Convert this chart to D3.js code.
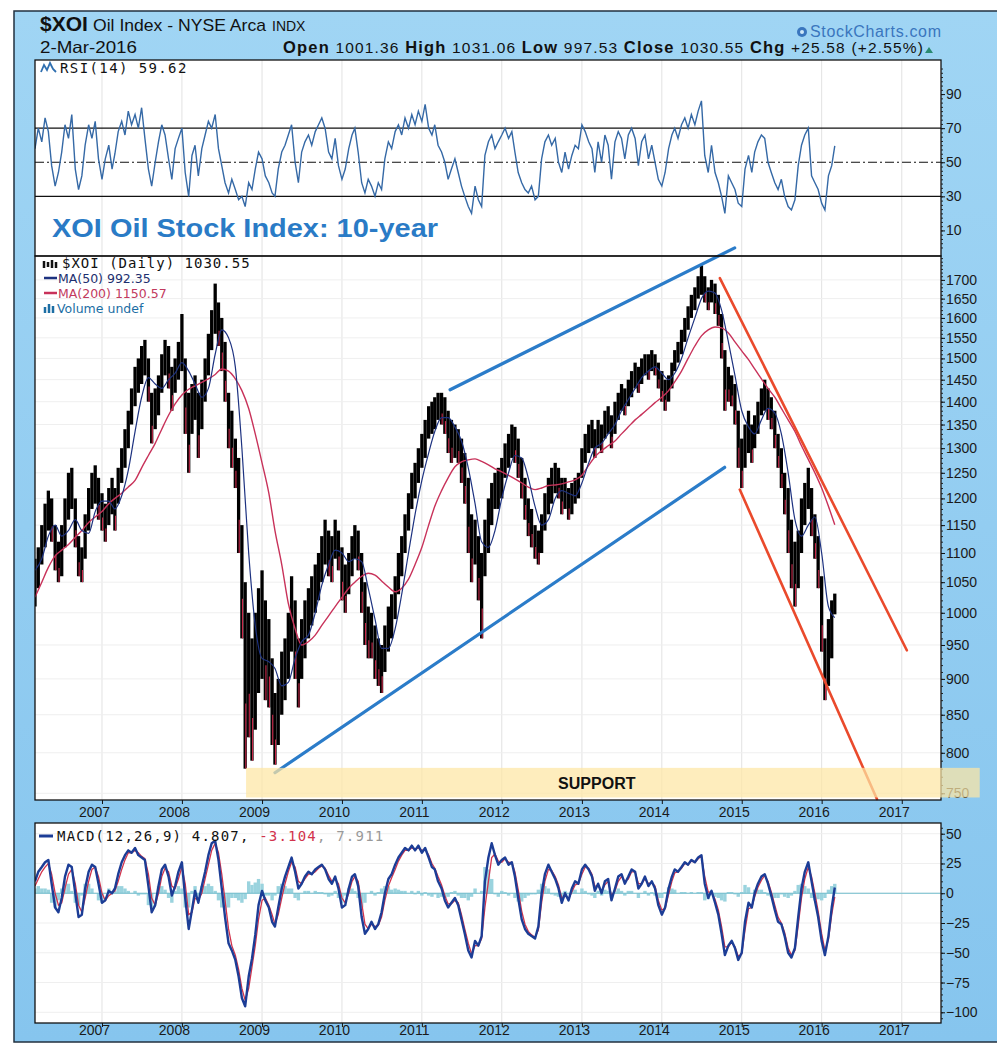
<!DOCTYPE html>
<html><head><meta charset="utf-8">
<script src="https://cdn.jsdelivr.net/npm/d3@7"></script>
<style>body{margin:0;background:#fff}svg{display:block}</style>
</head><body>
<svg id="c" width="997" height="1046"></svg>
<script>
// ---------- DATA (semimonthly: 1st and 16th of each month, from 1-Mar-2006) ----------
const seriesStart = "2006-03-01";
const priceHigh = [
1090,1110,1150,1190,1215,1200,1150,1120,1150,1200,
1250,1260,1200,1130,1110,1170,1220,1250,1265,1240,
1210,1190,1220,1240,1220,1260,1300,1340,1380,1430,
1480,1500,1530,1545,1500,1420,1430,1460,1510,1545,
1530,1480,1500,1540,1610,1500,1420,1440,1460,1420,
1450,1500,1560,1620,1690,1640,1600,1540,1420,1380,
1320,1280,1150,1050,1000,960,1000,1040,1070,1020,
990,930,880,900,940,960,1000,1060,1020,960,
990,1020,1040,1060,1080,1100,1130,1160,1140,1130,
1160,1140,1110,1080,1100,1130,1150,1140,1100,1050,
1010,1000,980,960,950,980,1010,1030,1060,1100,
1130,1170,1210,1250,1270,1300,1330,1360,1390,1400,
1410,1420,1420,1410,1380,1360,1350,1340,1320,1290,
1240,1170,1160,1130,1100,1160,1200,1230,1250,1260,
1280,1310,1330,1350,1345,1320,1280,1240,1200,1180,
1150,1140,1170,1210,1240,1260,1270,1260,1240,1240,
1220,1230,1240,1250,1300,1330,1350,1360,1340,1360,
1350,1380,1390,1370,1400,1420,1440,1430,1450,1470,
1490,1480,1500,1510,1510,1520,1510,1490,1470,1450,
1460,1490,1520,1540,1570,1600,1630,1660,1680,1710,
1740,1710,1680,1700,1690,1660,1610,1520,1480,1460,
1440,1380,1320,1350,1380,1350,1370,1400,1430,1450,
1430,1410,1380,1330,1300,1250,1220,1160,1120,1140,
1200,1230,1260,1220,1170,1130,1060,960,990,1020,
1031.06];
const priceLow = [
1010,1040,1080,1110,1140,1120,1070,1050,1060,1110,
1160,1180,1110,1060,1050,1090,1140,1180,1190,1160,
1140,1120,1150,1170,1140,1190,1230,1260,1300,1350,
1390,1420,1440,1460,1400,1310,1340,1370,1420,1460,
1430,1380,1420,1450,1470,1330,1250,1330,1360,1280,
1340,1400,1460,1520,1560,1530,1470,1400,1300,1260,
1220,1100,960,780,820,790,830,880,900,870,
860,810,785,810,850,870,900,940,900,860,
900,930,960,980,1000,1020,1050,1080,1060,1050,
1090,1070,1020,1000,1030,1060,1090,1070,1000,950,
930,930,900,890,880,910,940,960,990,1030,
1060,1100,1140,1180,1200,1230,1260,1280,1320,1330,
1340,1360,1350,1330,1290,1270,1280,1270,1230,1190,
1100,1050,1080,1020,960,1060,1100,1150,1180,1180,
1200,1240,1260,1280,1270,1240,1200,1160,1130,1110,
1090,1080,1100,1140,1170,1190,1210,1200,1170,1180,
1160,1170,1190,1200,1240,1270,1290,1300,1280,1300,
1290,1320,1330,1300,1330,1360,1380,1370,1390,1410,
1430,1420,1440,1460,1450,1470,1460,1430,1400,1380,
1400,1430,1470,1490,1510,1540,1570,1600,1620,1650,
1660,1640,1620,1640,1610,1580,1500,1380,1400,1390,
1350,1260,1220,1260,1290,1270,1300,1330,1370,1380,
1360,1340,1300,1260,1220,1170,1100,1040,1010,1040,
1100,1150,1180,1130,1090,1040,940,870,890,930,
997.53];
const rsi14 = [
58,70,62,76,68,48,36,44,56,72,
64,78,46,34,42,60,72,64,74,52,
40,52,60,46,55,68,74,66,80,72,
78,70,82,64,46,36,50,62,72,66,
52,40,58,64,70,44,30,54,60,42,
58,66,74,70,78,58,48,38,32,40,
34,28,30,24,38,34,46,56,52,42,
38,32,30,46,56,60,66,72,50,38,
56,62,66,60,68,72,76,70,56,52,
64,48,40,46,58,66,70,56,38,32,
40,36,30,38,34,52,62,58,68,72,
66,76,70,78,72,80,74,84,70,66,
72,60,56,50,40,46,52,44,36,30,
24,20,36,28,24,54,62,66,58,62,
66,70,64,68,56,44,38,34,32,36,
28,30,52,62,66,60,64,50,44,56,
46,54,60,58,72,68,62,58,44,62,
50,66,60,40,62,68,64,52,66,70,
64,48,62,66,52,60,50,40,36,44,
58,66,70,64,72,76,70,78,72,80,
86,54,44,60,44,38,30,20,42,38,
34,26,24,46,54,44,56,62,66,64,
50,44,38,34,40,30,24,22,28,48,
60,66,70,42,38,34,26,22,42,48,
59.62];
const macdLine = [
10,18,22,26,28,8,-12,-16,-4,14,
24,22,0,-20,-18,4,18,24,22,8,
-8,-6,2,0,4,16,26,32,36,34,
38,32,30,28,6,-16,-10,6,20,24,
14,-2,6,18,26,-4,-30,-14,2,-8,
6,18,32,42,44,28,4,-20,-42,-48,
-56,-70,-88,-95,-70,-55,-35,-10,2,-6,
-12,-24,-28,-12,4,14,22,30,18,4,
8,14,18,16,20,22,24,20,12,8,
14,4,-12,-10,4,14,16,6,-20,-34,
-30,-24,-30,-26,-16,0,12,16,24,30,
34,38,36,40,36,40,34,38,30,22,
20,10,4,-6,-12,-8,-4,-10,-22,-34,
-48,-54,-40,-44,-36,10,30,42,32,24,
28,30,24,26,14,-4,-22,-30,-34,-36,
-38,-28,0,16,24,18,12,4,-8,0,
-6,4,10,8,20,24,20,14,2,8,
0,10,12,-6,4,14,16,8,14,20,
18,4,8,14,6,10,4,-10,-18,-12,
4,14,20,18,22,26,24,28,26,30,
32,8,-4,2,-8,-18,-34,-52,-44,-40,
-46,-56,-50,-24,-8,-12,0,8,14,16,
8,-2,-14,-24,-26,-36,-50,-54,-46,-20,
4,18,26,10,-6,-20,-40,-52,-36,-12,
4.807];
const macdSignal = [
6,12,18,22,25,16,0,-10,-8,4,
16,20,8,-10,-16,-4,10,20,22,14,
0,-6,-2,0,2,10,20,28,34,34,
36,34,31,29,16,-4,-10,0,14,21,
18,6,4,12,22,8,-18,-16,-4,-6,
0,12,24,36,42,34,16,-6,-30,-44,
-52,-64,-80,-90,-80,-62,-44,-22,-6,-4,
-10,-18,-26,-18,-4,8,18,26,22,10,
8,12,16,16,18,21,23,21,15,10,
12,8,-4,-8,0,10,14,10,-8,-26,
-30,-26,-28,-27,-20,-6,6,13,20,27,
32,36,36,38,37,38,36,37,32,25,
21,14,7,-2,-9,-9,-6,-8,-18,-30,
-42,-51,-44,-44,-38,-12,10,30,33,27,
26,29,26,26,18,3,-15,-26,-32,-35,
-37,-31,-8,10,20,19,14,7,-4,-2,
-5,1,7,8,16,22,21,16,6,6,
2,7,10,-2,2,10,14,10,12,18,
18,8,8,12,8,9,6,-6,-14,-13,
-1,10,17,18,21,25,24,27,26,29,
31,14,1,1,-5,-14,-28,-45,-45,-41,
-45,-53,-51,-31,-13,-12,-3,5,11,15,
10,1,-10,-20,-25,-33,-46,-52,-48,-27,
-4,12,22,14,0,-15,-34,-48,-39,-18,
-3.104];
// monthly (1st of each month from Mar-2006)
const ma50 = [
1070,1090,1130,1150,1130,1140,1160,1140,1135,1175,
1195,1195,1180,1205,1255,1335,1410,1455,1440,1430,
1450,1465,1490,1470,1440,1410,1430,1510,1570,1550,
1480,1300,1100,980,930,925,915,890,895,930,
955,965,1000,1045,1080,1105,1100,1085,1090,1085,
1040,990,945,945,975,1030,1100,1170,1235,1290,
1335,1365,1365,1345,1315,1260,1190,1120,1110,1140,
1200,1250,1285,1280,1240,1185,1150,1160,1200,1215,
1210,1205,1230,1270,1300,1310,1330,1350,1380,1405,
1430,1455,1470,1480,1465,1450,1465,1500,1550,1600,
1650,1670,1665,1620,1540,1460,1380,1345,1330,1360,
1385,1375,1330,1250,1160,1130,1150,1165,1100,1010,
992.35];
const ma200 = [
1025,1050,1075,1095,1105,1115,1128,1140,1155,1165,
1175,1190,1200,1210,1222,1235,1260,1285,1310,1340,
1370,1395,1415,1428,1436,1444,1452,1462,1475,1470,
1452,1425,1385,1330,1270,1210,1140,1080,1015,975,
950,955,965,980,995,1010,1025,1040,1050,1060,
1065,1062,1052,1042,1034,1040,1055,1080,1110,1150,
1185,1215,1240,1262,1272,1276,1278,1273,1266,1258,
1252,1245,1238,1230,1222,1217,1220,1225,1226,1228,
1232,1236,1245,1265,1282,1295,1305,1315,1330,1345,
1360,1372,1385,1398,1410,1425,1445,1470,1500,1530,
1555,1570,1577,1575,1562,1540,1518,1497,1475,1452,
1430,1410,1385,1360,1335,1305,1277,1250,1220,1185,
1150.57];
// annotations (date, price)
const trendBlueUpper = [["2011-05-10",1427],["2014-11-30",1789]];
const trendBlueLower = [["2009-03-01",775],["2014-10-15",1261]];
const trendRedUpper  = [["2014-09-23",1705],["2017-01-24",942]];
const trendRedLower  = [["2014-12-23",1217],["2016-09-10",743]];
const supportPrices = [745,781];
const supportDates = ["2008-10-20","2017-12-23"];
const supportLabel = "SUPPORT";
// axes
const yearTicks = [2007,2008,2009,2010,2011,2012,2013,2014,2015,2016,2017];
const priceTicks = d3.range(750,1701,50);
const rsiTicks = [10,30,50,70,90];
const rsiLevels = [30,70];
const macdTicks = [50,25,0,-25,-50,-75,-100];

// ---------- SETUP ----------
const parse = d3.timeParse("%Y-%m-%d");
const d0 = parse(seriesStart);
const semiDate = i => new Date(d0.getFullYear(), d0.getMonth() + Math.floor(i/2), i % 2 ? 16 : 1);
const monthDate = m => new Date(d0.getFullYear(), d0.getMonth() + m, 1);

const svg = d3.select("#c");
const defs = svg.append("defs");
const FONT = 'Arial, "Liberation Sans", sans-serif';
const MONO = '"DejaVu Sans Mono", monospace';
const SANS = '"DejaVu Sans", Verdana, sans-serif';

const L = 35, R = 941;
const rsiTop = 60, rsiBot = 256, prTop = 256, prBot = 800, mTop = 823, mBot = 1023;

const x = d3.scaleTime().domain([d0, new Date(2016,2,2)]).range([35, 835]);
const yR = d3.scaleLinear().domain([-5,110]).range([rsiBot, rsiTop]);
const yP = d3.scaleLog().domain([742,1766]).range([prBot, prTop]);
const yM = d3.scaleLinear().domain([-109,59]).range([mBot, mTop]);

// background
const grad = defs.append("linearGradient").attr("id","bg").attr("x1",0).attr("y1",0).attr("x2",0).attr("y2",1);
grad.append("stop").attr("offset","0%").attr("stop-color","#a0d5f4");
grad.append("stop").attr("offset","100%").attr("stop-color","#86c5ee");
svg.append("rect").attr("x",14).attr("y",11).attr("width",985).attr("height",1031)
  .attr("fill","url(#bg)").attr("stroke","#22313f").attr("stroke-width",1.5);

// panels
const panels = [[rsiTop,rsiBot,"cR"],[prTop,prBot,"cP"],[mTop,mBot,"cM"]];
panels.forEach(([t,b,id]) => {
  defs.append("clipPath").attr("id",id).append("rect").attr("x",L).attr("y",t).attr("width",R-L).attr("height",b-t);
  svg.append("rect").attr("x",L).attr("y",t).attr("width",R-L).attr("height",b-t).attr("fill","#fff");
});

// grids
const yearDates = yearTicks.map(y => new Date(y,0,1));
panels.forEach(([t,b]) => {
  svg.append("g").selectAll("line").data(yearDates).join("line")
    .attr("x1",d=>x(d)).attr("x2",d=>x(d)).attr("y1",t).attr("y2",b)
    .attr("stroke","#e2e2e2").attr("stroke-width",1);
});
svg.append("g").selectAll("line").data(priceTicks).join("line")
  .attr("x1",L).attr("x2",R).attr("y1",d=>yP(d)).attr("y2",d=>yP(d))
  .attr("stroke","#efefef").attr("stroke-width",1);
svg.append("g").selectAll("line").data(macdTicks).join("line")
  .attr("x1",L).attr("x2",R).attr("y1",d=>yM(d)).attr("y2",d=>yM(d))
  .attr("stroke","#efefef").attr("stroke-width",1);

// ---------- RSI ----------
const gR = svg.append("g").attr("clip-path","url(#cR)");
gR.selectAll("line.lvl").data(rsiLevels).join("line").attr("class","lvl")
  .attr("x1",L).attr("x2",R).attr("y1",d=>yR(d)).attr("y2",d=>yR(d))
  .attr("stroke","#111").attr("stroke-width",1.2);
gR.append("line").attr("x1",L).attr("x2",R).attr("y1",yR(50)).attr("y2",yR(50))
  .attr("stroke","#111").attr("stroke-width",1.1).attr("stroke-dasharray","9,3,2,3");
gR.append("path").datum(rsi14)
  .attr("d", d3.line().x((d,i)=>x(semiDate(i))).y(d=>yR(d)))
  .attr("fill","none").attr("stroke","#3569a6").attr("stroke-width",1.4);

// ---------- PRICE ----------
const gP = svg.append("g").attr("clip-path","url(#cP)");
gP.selectAll("line.bar").data(priceHigh).join("line").attr("class","bar")
  .attr("x1",(d,i)=>x(semiDate(i))).attr("x2",(d,i)=>x(semiDate(i)))
  .attr("y1",d=>yP(d)).attr("y2",(d,i)=>yP(priceLow[i]))
  .attr("stroke","#000").attr("stroke-width",3.3);
// down periods tinted red on their lower part (StockCharts colours falling bars red)
const downIdx = d3.range(1, priceHigh.length).filter(i =>
  priceHigh[i] + priceLow[i] < priceHigh[i-1] + priceLow[i-1]);
gP.selectAll("line.dn").data(downIdx).join("line").attr("class","dn")
  .attr("x1",i=>x(semiDate(i))+0.6).attr("x2",i=>x(semiDate(i))+0.6)
  .attr("y1",i=>yP(priceLow[i]) - 0.35*(yP(priceLow[i]) - yP(priceHigh[i])))
  .attr("y2",i=>yP(priceLow[i]))
  .attr("stroke","#c8284a").attr("stroke-width",1.1);
gP.append("path").datum(ma200)
  .attr("d", d3.line().x((d,i)=>x(monthDate(i))).y(d=>yP(d)).curve(d3.curveMonotoneX))
  .attr("fill","none").attr("stroke","#c8325a").attr("stroke-width",1.4);
gP.append("path").datum(ma50)
  .attr("d", d3.line().x((d,i)=>x(monthDate(i))).y(d=>yP(d)).curve(d3.curveMonotoneX))
  .attr("fill","none").attr("stroke","#1d3280").attr("stroke-width",1.2);

// trend lines
const tl = d3.line().x(d=>x(parse(d[0]))).y(d=>yP(d[1]));
[trendBlueUpper,trendBlueLower].forEach(t => svg.append("path").attr("d",tl(t))
  .attr("stroke","#2b7cc9").attr("stroke-width",3.2).attr("fill","none").attr("stroke-linecap","round"));
[trendRedUpper,trendRedLower].forEach(t => svg.append("path").attr("d",tl(t))
  .attr("stroke","#ea4a2c").attr("stroke-width",2.6).attr("fill","none").attr("stroke-linecap","round"));

// ---------- MACD ----------
const gM = svg.append("g").attr("clip-path","url(#cM)");
gM.selectAll("rect.h").data(macdLine).join("rect").attr("class","h")
  .attr("x",(d,i)=>x(semiDate(i))-1.7).attr("width",3.4)
  .attr("y",(d,i)=>Math.min(yM(0), yM(d-macdSignal[i])))
  .attr("height",(d,i)=>Math.abs(yM(0)-yM(d-macdSignal[i])))
  .attr("fill","#9ad3de");
gM.append("line").attr("x1",L).attr("x2",R).attr("y1",yM(0)).attr("y2",yM(0))
  .attr("stroke","#6fbccc").attr("stroke-width",1.2);
gM.append("path").datum(macdSignal)
  .attr("d", d3.line().x((d,i)=>x(semiDate(i))).y(d=>yM(d)))
  .attr("fill","none").attr("stroke","#d2334c").attr("stroke-width",1.3);
gM.append("path").datum(macdLine)
  .attr("d", d3.line().x((d,i)=>x(semiDate(i))).y(d=>yM(d)))
  .attr("fill","none").attr("stroke","#1c3d96").attr("stroke-width",2.4).attr("stroke-linejoin","round");

// borders
panels.forEach(([t,b]) => svg.append("rect").attr("x",L).attr("y",t).attr("width",R-L).attr("height",b-t)
  .attr("fill","none").attr("stroke","#111").attr("stroke-width",1.3));

// ---------- AXES ----------
function rightAxis(scale, major, minor, fmt){
  const gm = svg.append("g").attr("transform",`translate(${R},0)`)
    .call(d3.axisRight(scale).tickValues(minor).tickSize(2).tickFormat(""));
  gm.select(".domain").remove();
  gm.selectAll("line").attr("stroke","#222");
  const g = svg.append("g").attr("transform",`translate(${R},0)`)
    .call(d3.axisRight(scale).tickValues(major).tickSize(4).tickPadding(1).tickFormat(fmt));
  g.select(".domain").remove();
  g.selectAll("line").attr("stroke","#111");
  g.selectAll("text").attr("font-family",FONT).attr("font-size",14).attr("fill","#1a1a1a");
}
rightAxis(yR, rsiTicks, d3.range(0,106,2.5), d3.format("d"));
rightAxis(yP, priceTicks, d3.range(750,1761,10), d3.format("d"));
rightAxis(yM, macdTicks, d3.range(-105,56,5), d3.format("d"));

function yearAxis(yBase, labelY){
  const g = svg.append("g").attr("transform",`translate(0,${yBase})`)
    .call(d3.axisBottom(x).tickValues(yearDates).tickSize(4).tickFormat(d3.timeFormat("%Y")));
  g.select(".domain").remove();
  g.selectAll("line").attr("stroke","#111");
  g.selectAll("text").attr("font-family",FONT).attr("font-size",14).attr("fill","#1a1a1a")
    .attr("dx",-8).attr("y",labelY - yBase).attr("dy",0);
}
yearAxis(prBot, 817);
yearAxis(mBot, 1035);

// support band (semi-transparent, over marks and axis)
svg.append("rect")
  .attr("x",x(parse(supportDates[0]))).attr("width",x(parse(supportDates[1]))-x(parse(supportDates[0])))
  .attr("y",yP(supportPrices[1])).attr("height",yP(supportPrices[0])-yP(supportPrices[1]))
  .attr("fill","#fde6a3").attr("opacity",0.72);
svg.append("text").attr("x",x(new Date(2013,2,10))).attr("y",yP(762)+6).attr("text-anchor","middle")
  .attr("font-family",FONT).attr("font-weight","bold").attr("font-size",16).attr("fill","#111").text(supportLabel);

// ---------- HEADER ----------
const hdr = svg.append("g").attr("font-family",FONT).attr("fill","#111");
hdr.append("text").attr("x",40).attr("y",31).attr("font-size",21).attr("font-weight","bold").text("$XOI");
hdr.append("text").attr("x",93).attr("y",31).attr("font-size",17).attr("textLength",173).attr("lengthAdjust","spacingAndGlyphs").text("Oil Index - NYSE Arca");
hdr.append("text").attr("x",272).attr("y",31).attr("font-size",14).text("INDX");
hdr.append("text").attr("x",40).attr("y",53).attr("font-size",16.5).attr("textLength",97).attr("lengthAdjust","spacingAndGlyphs").text("2-Mar-2016");
const ohlc = hdr.append("text").attr("x",283).attr("y",53).attr("font-size",15.5)
  .attr("textLength",640).attr("lengthAdjust","spacing");
[["Open",1],[" 1001.36  ",0],["High",1],[" 1031.06  ",0],["Low",1],[" 997.53  ",0],
 ["Close",1],[" 1030.55  ",0],["Chg",1],[" +25.58 (+2.55%)",0]].forEach(([t,b]) =>
  ohlc.append("tspan").attr("font-weight",b?"bold":"normal").attr("font-size",b?16.5:15.5).text(t));
hdr.append("path").attr("d","M925,53 L933,53 L929,47 Z").attr("fill","#2a8a70");
hdr.append("circle").attr("cx",802).attr("cy",32).attr("r",5).attr("fill","#3a76be");
hdr.append("circle").attr("cx",802).attr("cy",32).attr("r",2).attr("fill","#cfe8f8");
hdr.append("text").attr("x",810).attr("y",37).attr("font-size",16).attr("fill","#3a76be")
  .attr("textLength",131).attr("lengthAdjust","spacing").text("StockCharts.com");

// title in RSI panel
svg.append("text").attr("x",52).attr("y",237).attr("font-family",FONT).attr("font-weight","bold")
  .attr("font-size",26).attr("fill","#2a7bc6").attr("textLength",386).attr("lengthAdjust","spacingAndGlyphs")
  .text("XOI Oil Stock Index: 10-year");

// ---------- LEGENDS ----------
const lg = svg.append("g");
// RSI
lg.append("path").attr("d","M41,72 L44,65 L47,70 L50,63 L53,69 L56,72").attr("fill","none").attr("stroke","#2f6fb0").attr("stroke-width",1.8);
lg.append("text").attr("x",60).attr("y",73).attr("font-family",MONO).attr("font-size",14).attr("letter-spacing",1.4)
  .attr("fill","#111").text("RSI(14) 59.62");
// price
[[44,261,268],[48,262,267],[52,260,268],[56,262,268]].forEach(([bx,t,b]) =>
  lg.append("line").attr("x1",bx).attr("x2",bx).attr("y1",t).attr("y2",b).attr("stroke","#111").attr("stroke-width",2.5));
lg.append("text").attr("x",62).attr("y",268).attr("font-family",MONO).attr("font-size",14).attr("letter-spacing",1.0)
  .attr("fill","#111").text("$XOI (Daily) 1030.55");
lg.append("line").attr("x1",44).attr("x2",57).attr("y1",278).attr("y2",278).attr("stroke","#1d3280").attr("stroke-width",2.5);
lg.append("text").attr("x",58).attr("y",283).attr("font-family",SANS).attr("font-size",12.5)
  .attr("fill","#1d2f6f").text("MA(50) 992.35");
lg.append("line").attr("x1",44).attr("x2",57).attr("y1",293).attr("y2",293).attr("stroke","#c8325a").attr("stroke-width",2.5);
lg.append("text").attr("x",58).attr("y",298).attr("font-family",SANS).attr("font-size",12.5)
  .attr("fill","#c23a5e").text("MA(200) 1150.57");
[[45,307,313],[49,304,313],[53,306,313]].forEach(([bx,t,b]) =>
  lg.append("line").attr("x1",bx).attr("x2",bx).attr("y1",t).attr("y2",b).attr("stroke","#1c6ea4").attr("stroke-width",2.5));
lg.append("text").attr("x",57).attr("y",313).attr("font-family",SANS).attr("font-size",12.5)
  .attr("fill","#1c6ea4").text("Volume undef");
// MACD
lg.append("line").attr("x1",39).attr("x2",53).attr("y1",836).attr("y2",836).attr("stroke","#1c3d96").attr("stroke-width",3);
const mt = lg.append("text").attr("x",57).attr("y",841).attr("font-family",MONO).attr("font-size",14).attr("letter-spacing",1.2);
mt.append("tspan").attr("fill","#111").text("MACD(12,26,9) 4.807, ");
mt.append("tspan").attr("fill","#d2334c").text("-3.104");
mt.append("tspan").attr("fill","#999").text(", 7.911");
</script>
</body></html>
